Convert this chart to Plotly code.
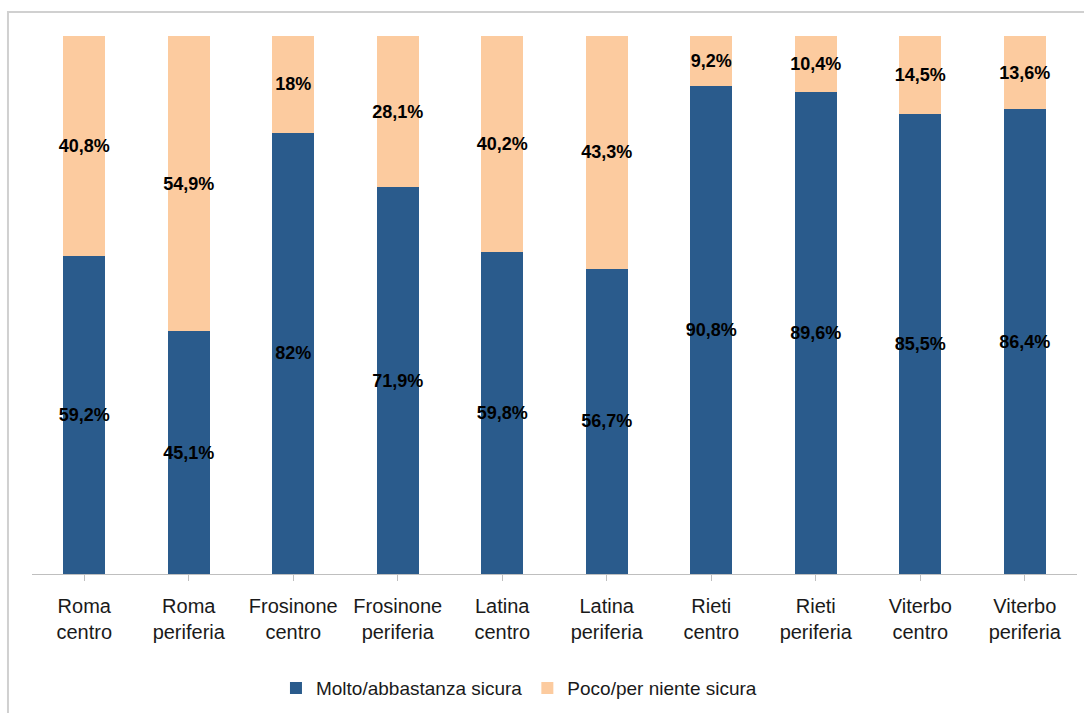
import plotly.graph_objects as go

categories = [
    "Roma<br>centro", "Roma<br>periferia", "Frosinone<br>centro", "Frosinone<br>periferia",
    "Latina<br>centro", "Latina<br>periferia", "Rieti<br>centro", "Rieti<br>periferia",
    "Viterbo<br>centro", "Viterbo<br>periferia",
]
sicura = [59.2, 45.1, 82, 71.9, 59.8, 56.7, 90.8, 89.6, 85.5, 86.4]
non_sicura = [40.8, 54.9, 18, 28.1, 40.2, 43.3, 9.2, 10.4, 14.5, 13.6]

series_names = ["Molto/abbastanza sicura", "Poco/per niente sicura"]
colors = ["#2A5B8C", "#FCCB9F"]

FONT = "Liberation Sans, Arial, sans-serif"


def fmt(v):
    s = ("%g" % v).replace(".", ",")
    return s + "%"


fig = go.Figure()
for name, vals, col in zip(series_names, [sicura, non_sicura], colors):
    fig.add_trace(go.Bar(
        x=list(range(len(categories))),
        y=vals,
        name=name,
        marker=dict(color=col, line=dict(width=0)),
        text=[fmt(v) for v in vals],
        textposition="inside",
        insidetextanchor="middle",
        textangle=0,
        constraintext="none",
        textfont=dict(family=FONT, size=18, color="#000000", weight="bold"),
        hoverinfo="skip",
    ))

fig.update_layout(
    barmode="stack",
    bargap=0.6,
    width=1084,
    height=713,
    margin=dict(l=32, r=7, t=36, b=138),
    paper_bgcolor="white",
    plot_bgcolor="white",
    font=dict(family=FONT, color="#1a1a1a"),
    showlegend=True,
    legend=dict(
        orientation="h", x=0.466, xanchor="center", y=-0.21, yanchor="middle",
        font=dict(family=FONT, size=19, color="#1a1a1a"),
        itemwidth=30, traceorder="normal",
    ),
    xaxis=dict(
        tickmode="array",
        tickvals=list(range(len(categories))),
        ticktext=categories,
        range=[-0.5, len(categories) - 0.5],
        showline=True, linecolor="#BFBFBF", linewidth=1,
        ticks="outside", tickson="boundaries", ticklen=6, tickcolor="#BFBFBF",
        ticklabelstandoff=8,
        tickfont=dict(family=FONT, size=20, color="#1a1a1a"),
        showgrid=False, zeroline=False, fixedrange=True,
    ),
    yaxis=dict(
        range=[0, 100], visible=False, showgrid=False, zeroline=False, fixedrange=True,
    ),
    shapes=[
        dict(type="rect", xref="paper", yref="paper",
             x0=-0.023, x1=1.02, y0=-0.3, y1=1.0445,
             line=dict(color="#D0D0D0", width=2), fillcolor="rgba(0,0,0,0)", layer="below"),
    ],
)

fig.write_html("out.html")
